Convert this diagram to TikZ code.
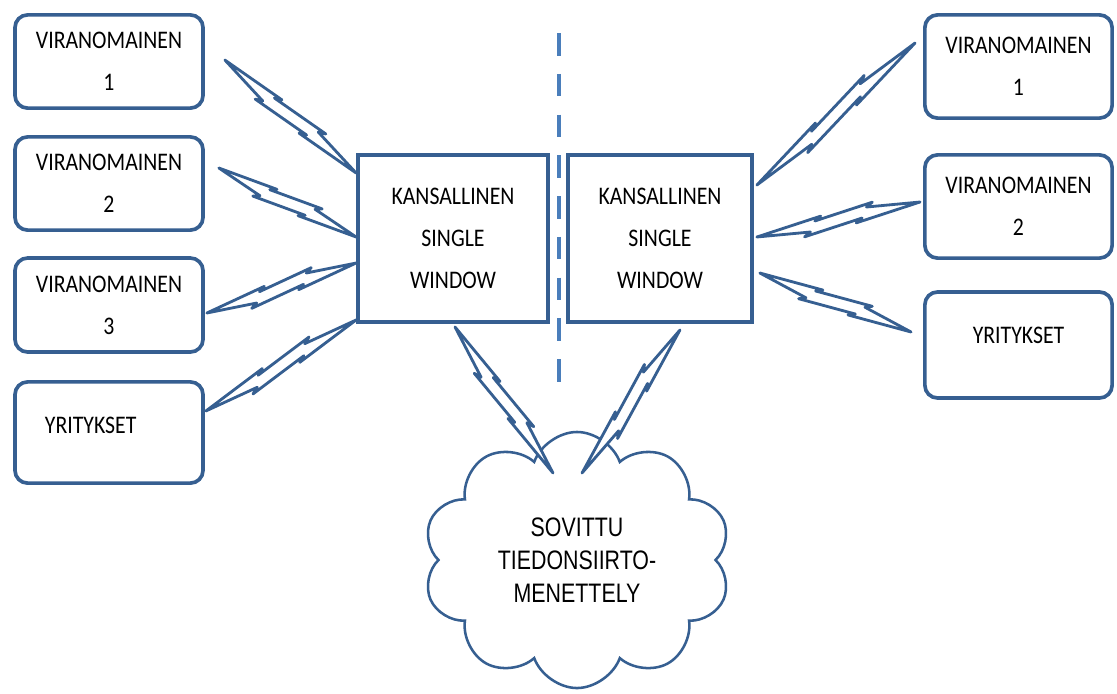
\documentclass[tikz,border=0pt]{standalone}
\usepackage{fontspec}
\newfontfamily\boxfont{Carlito}
\newfontfamily\cloudfont{Liberation Sans}
\usetikzlibrary{calc,shapes.symbols}
\definecolor{linkblue}{HTML}{365F91}
\definecolor{dashblue}{HTML}{4A7EBB}
% narrow text
\newcommand{\sq}[1]{\scalebox{0.86}[1]{#1}}
\newcommand{\sqc}[1]{\scalebox{0.8}[1]{#1}}
% lightning link from #1 to #2
\newcommand{\bolt}[2]{%
  \draw[boltline] (#1)
    -- ($(#1)!0.40!(#2)!5pt!90:(#2)$) -- ($(#1)!0.36!(#2)!2.5pt!90:(#2)$)
    -- ($(#1)!0.72!(#2)!7pt!90:(#2)$) -- ($(#1)!0.68!(#2)!4.5pt!90:(#2)$)
    -- (#2)
    -- ($(#1)!0.60!(#2)!5pt!-90:(#2)$) -- ($(#1)!0.64!(#2)!2.5pt!-90:(#2)$)
    -- ($(#1)!0.28!(#2)!7pt!-90:(#2)$) -- ($(#1)!0.32!(#2)!4.5pt!-90:(#2)$)
    -- cycle;}
\begin{document}
\begin{tikzpicture}[x=0.025cm,y=-0.025cm,
    box/.style={draw=linkblue, line width=2.6pt, rounded corners=9pt, fill=white,
      align=center, inner sep=0pt, font=\boxfont\fontsize{18}{30}\selectfont},
    swbox/.style={box, rounded corners=0pt, minimum width=4.6cm, minimum height=4.18cm},
    boltline/.style={draw=linkblue, line width=2pt, fill=white, line join=round},
    divider/.style={draw=dashblue, line width=2.2pt, dash pattern=on 16pt off 13pt}]
  \fill[white] (0,0) rectangle (1117,693);
  \useasboundingbox (0,0) rectangle (1117,693);

  % Left authorities
  \node[box, minimum width=4.7cm, minimum height=2.33cm] (lv1) at (109,61.5) {\sq{VIRANOMAINEN}\\\sq{1}};
  \node[box, minimum width=4.7cm, minimum height=2.33cm] (lv2) at (109,183.5) {\sq{VIRANOMAINEN}\\\sq{2}};
  \node[box, minimum width=4.7cm, minimum height=2.35cm] (lv3) at (109,305) {\sq{VIRANOMAINEN}\\\sq{3}};
  \node[box, minimum height=2.53cm, inner xsep=0.75cm, text width=3.2cm, align=left,
    text depth=0.35cm] (ly) at (109,432.5) {\sq{YRITYKSET}};

  % National single windows
  \node[swbox, minimum width=4.75cm] (lk) at (453,238.5) {\sq{KANSALLINEN}\\\sq{SINGLE}\\\sq{WINDOW}};
  \node[swbox] (rk) at (660,238.5) {\sq{KANSALLINEN}\\\sq{SINGLE}\\\sq{WINDOW}};

  % Border line
  \coordinate (dtop) at (559,33);
  \coordinate (dbot) at (559,400);
  \draw[divider] (dtop) -- (dbot);

  % Right authorities
  \node[box, minimum width=4.68cm, minimum height=2.58cm] (rv1) at (1018.5,66.5) {\sq{VIRANOMAINEN}\\\sq{1}};
  \node[box, minimum width=4.68cm, minimum height=2.58cm] (rv2) at (1018.5,206.5) {\sq{VIRANOMAINEN}\\\sq{2}};
  \node[box, minimum width=4.68cm, minimum height=2.65cm, text depth=0.5cm] (ry) at (1018.5,345) {\sq{YRITYKSET}};

  % Cloud
  \node[cloud, cloud puffs=10, cloud puff arc=140, cloud ignores aspect, draw=linkblue, line width=1.8pt,
    fill=white, minimum width=7.7cm, minimum height=6.4cm, align=center,
    font=\cloudfont\fontsize{19}{23.5}\selectfont] (cloud) at (577,560)
    {\sqc{SOVITTU}\\\sqc{TIEDONSIIRTO-}\\\sqc{MENETTELY}};

  % Link ends
  \coordinate (l1a) at ($(lv1.east)+(20,-1.5)$);
  \coordinate (l1b) at ($(lk.north west)+(0,20)$);
  \coordinate (l2a) at ($(lv2.east)+(14,-15.5)$);
  \coordinate (l2b) at ($(lk.west)+(0,-1.5)$);
  \coordinate (l3a) at ($(lv3.east)+(2,8)$);
  \coordinate (l3b) at ($(lk.west)+(0,24.5)$);
  \coordinate (l4a) at ($(ly.east)+(1,-21.5)$);
  \coordinate (l4b) at ($(lk.south west)+(0,-4)$);
  \coordinate (r1a) at ($(rk.north east)+(3,32)$);
  \coordinate (r1b) at ($(rv1.west)+(-8,-23.5)$);
  \coordinate (r2a) at ($(rk.east)+(3,-1.5)$);
  \coordinate (r2b) at ($(rv2.west)+(-3,-4.5)$);
  \coordinate (r3a) at ($(rk.east)+(6,34.5)$);
  \coordinate (r3b) at ($(ry.west)+(-12,-13)$);
  \coordinate (b1a) at ($(lk.south)+(2,3)$);
  \coordinate (b1b) at ($(cloud.center)+(-24,-87)$);
  \coordinate (b2a) at ($(rk.south)+(20,6)$);
  \coordinate (b2b) at ($(cloud.center)+(5,-87)$);

  % Links
  \foreach \a/\b in {l1a/l1b, l2a/l2b, l3a/l3b, l4a/l4b, r1a/r1b, r2a/r2b, r3a/r3b, b1a/b1b, b2a/b2b}
    \bolt{\a}{\b};
\end{tikzpicture}
\end{document}
